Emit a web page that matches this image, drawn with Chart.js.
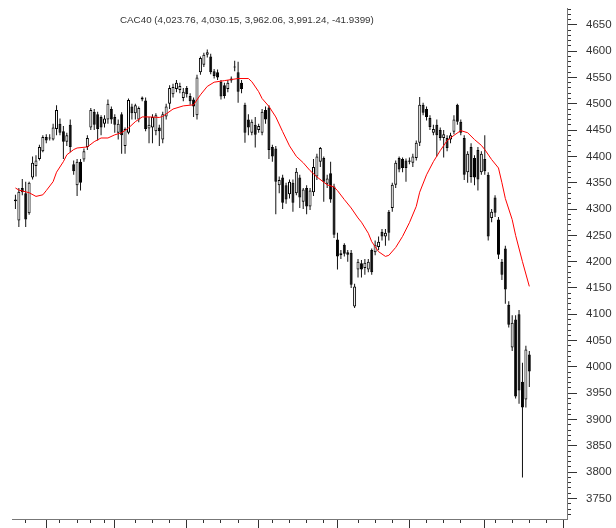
<!DOCTYPE html>
<html>
<head>
<meta charset="utf-8">
<script src="https://cdn.jsdelivr.net/npm/chart.js@4.4.1/dist/chart.umd.min.js"></script>
<style>
  html, body { margin: 0; padding: 0; background: #fff; }
  #wrap { position: relative; width: 616px; height: 528px; }
  #title {
    position: absolute; left: 120px; top: 14px;
    font: 9.8px "Liberation Sans", Arial, sans-serif; color: #333;
    white-space: nowrap; line-height: 12px;
  }
</style>
</head>
<body>
<div id="wrap">
  <canvas id="one_chart" width="616" height="528"></canvas>
  <div id="title">CAC40 (4,023.76, 4,030.15, 3,962.06, 3,991.24, -41.9399)</div>
</div>
<script>
// daily candles, index 0 = first session on the chart
const opens = [4318,4278,4340,4330,4292,4360,4382,4395,4410,4437,4436,4432,4452,4462,4448,4428,4460,4385,4345,4390,
  4394,4418,4455,4485,4480,4475,4462,4470,4490,4475,4445,4480,4420,4445,4495,4482,4470,4512,4506,4453,
  4455,4448,4455,4432,4476,4500,4518,4528,4526,4511,4530,4515,4508,4478,4560,4574,4593,4590,4562,4560,
  4542,4535,4528,4548,4571,4560,4540,4498,4470,4445,4460,4450,4445,4488,4493,4418,4415,4345,4360,4345,
  4328,4350,4330,4360,4314,4340,4305,4332,4362,4390,4397,4348,4368,4343,4242,4212,4232,4218,4217,4115,
  4185,4197,4188,4185,4222,4218,4228,4257,4248,4295,4302,4346,4397,4395,4392,4392,4388,4397,4426,4498,
  4490,4473,4445,4460,4450,4435,4435,4432,4447,4498,4466,4435,4370,4418,4397,4412,4370,4395,4365,4283,
  4322,4280,4200,4225,4118,4037,4090,4100,3972,3938,4023.76];
const highs = [4327,4340,4357,4352,4352,4400,4402,4422,4440,4442,4442,4462,4497,4472,4458,4445,4470,4392,4395,4395,
  4415,4440,4492,4490,4485,4478,4478,4508,4495,4480,4470,4484,4455,4510,4500,4500,4495,4514,4512,4475,
  4480,4482,4460,4485,4500,4535,4538,4545,4540,4530,4534,4520,4512,4555,4590,4597,4603,4595,4566,4565,
  4545,4540,4545,4552,4582,4580,4545,4502,4480,4470,4475,4462,4490,4495,4497,4422,4420,4362,4365,4350,
  4356,4356,4378,4365,4340,4345,4340,4395,4405,4418,4400,4365,4390,4348,4255,4222,4235,4222,4222,4158,
  4205,4203,4205,4205,4225,4240,4248,4262,4262,4298,4350,4392,4400,4398,4396,4398,4405,4430,4513,4502,
  4495,4478,4460,4470,4455,4450,4440,4445,4478,4500,4470,4440,4410,4425,4402,4418,4410,4440,4370,4300,
  4326,4285,4205,4230,4125,4098,4098,4108,4008,4040,4030.15];
const lows = [4300,4266,4326,4266,4289,4356,4362,4392,4408,4425,4430,4430,4440,4440,4395,4420,4408,4365,4325,4335,
  4390,4412,4450,4450,4430,4440,4455,4462,4462,4445,4432,4405,4405,4442,4470,4470,4465,4505,4448,4425,
  4425,4440,4420,4425,4470,4490,4512,4522,4520,4505,4512,4498,4475,4470,4555,4570,4588,4556,4548,4545,
  4508,4510,4522,4540,4562,4502,4520,4426,4440,4440,4417,4445,4440,4462,4395,4390,4290,4330,4300,4310,
  4320,4295,4326,4302,4300,4290,4298,4325,4355,4380,4314,4340,4312,4245,4185,4205,4210,4200,4150,4112,
  4170,4170,4175,4180,4175,4212,4222,4240,4230,4240,4295,4340,4370,4370,4352,4385,4380,4392,4420,4478,
  4468,4450,4440,4400,4430,4398,4410,4425,4442,4460,4440,4355,4350,4350,4345,4335,4365,4365,4240,4275,
  4285,4205,4165,4120,4075,4030,3940,3930,3790,3923,3962.06];
const closes = [4315,4333,4332,4280,4350,4388,4392,4418,4437,4430,4434,4455,4488,4445,4428,4440,4418,4372,4390,4350,
  4410,4435,4488,4460,4452,4455,4472,4500,4470,4460,4462,4440,4452,4507,4482,4497,4492,4508,4452,4460,
  4475,4478,4448,4480,4495,4530,4532,4540,4534,4523,4518,4505,4495,4550,4587,4593,4598,4560,4553,4550,
  4514,4515,4540,4544,4569,4523,4528,4445,4455,4466,4441,4458,4485,4470,4412,4400,4352,4355,4312,4318,
  4352,4312,4371,4322,4337,4305,4335,4380,4400,4416,4352,4358,4318,4251,4210,4216,4215,4213,4156,4153,
  4200,4185,4198,4200,4180,4232,4238,4248,4255,4255,4346,4388,4375,4378,4378,4390,4400,4426,4498,4483,
  4475,4456,4452,4440,4435,4442,4416,4440,4470,4466,4445,4365,4405,4361,4360,4356,4405,4372,4248,4295,
  4293,4213,4175,4147,4080,4084,3944,3955,3923,4033.18,3991.24];

// red moving average at these candle positions
const maIndex = [0,1,4,6,8,9,11,12,14,15,17,18,21,23,25,27,29,31,33,35,37,39,42,43,46,49,52,54,56,58,
  61,63,65,68,69,71,72,74,76,78,80,82,84,86,88,91,93,94,96,98,100,101,103,104,106,108,109,111,113,115,
  117,118,120,122,124,126,128,130,132,134,136,137,139,141,142,143,145,146,148,150];
const maValue = [4340,4336,4331,4324,4327,4335,4352,4370,4390,4403,4413,4416,4418,4428,4435,4435,4441,4445,4454,4466,
  4475,4475,4474,4476,4490,4496,4498,4517,4533,4541,4544,4546,4548,4548,4542,4523,4510,4495,4475,4447,
  4420,4400,4388,4373,4361,4346,4342,4335,4318,4302,4283,4275,4254,4238,4219,4210,4212,4227,4248,4274,
  4305,4332,4365,4390,4411,4430,4440,4449,4445,4432,4421,4413,4394,4378,4350,4320,4280,4250,4200,4153];

// axis ticks
const yLabels = [3750,3800,3850,3900,3950,4000,4050,4100,4150,4200,4250,4300,4350,4400,4450,4500,4550,4600,4650];
const weekTicks = [3,13,18,22,26,35,40,45,55,60,65,75,80,85,90,100,105,110,120,125,130,140,145,150,155];
const monthTicks = [9,29,50,71,94,115,137,160];

const yMin = 3711, yMax = 4682;

const bodies = opens.map((o, i) => ({ x: i, y: [o, closes[i]] }));
const wicks = lows.map((l, i) => ({ x: i, y: [l, highs[i]] }));
const ma = maIndex.map((x, k) => ({ x: x, y: maValue[k] }));

const setTicks = (values) => (scale) => {
  scale.ticks = values.map((v) => ({ value: v }));
};
// no extra room for the end labels
const noPad = (scale) => {
  scale.paddingTop = 0;
  scale.paddingBottom = 0;
  scale.paddingLeft = 0;
  scale.paddingRight = 0;
};

const config = {
  type: "bar",
  data: {
    datasets: [
      {
        type: "line",
        data: ma,
        borderColor: "#ff0000",
        borderWidth: 1,
        pointRadius: 0,
        tension: 0,
        order: 0,
      },
      {
        data: bodies,
        grouped: false,
        barThickness: 3,
        borderWidth: 1,
        borderSkipped: false,
        borderColor: "#000",
        backgroundColor: (c) => (closes[c.dataIndex] >= opens[c.dataIndex] ? "#fff" : "#000"),
        inflateAmount: 0,
        order: 1,
      },
      {
        data: wicks,
        grouped: false,
        barThickness: 1,
        borderWidth: 0,
        backgroundColor: "#111",
        inflateAmount: 0,
        order: 2,
      },
    ],
  },
  options: {
    responsive: false,
    animation: false,
    layout: { padding: { left: 12, right: 0, top: 8, bottom: 5 } },
    plugins: { legend: { display: false }, tooltip: { enabled: false } },
    scales: {
      x: {
        type: "linear",
        position: "bottom",
        weight: 1,
        min: -1,
        max: 161,
        offset: false,
        grid: { drawOnChartArea: false, offset: false, tickLength: 4, color: "#333" },
        border: { color: "#777" },
        ticks: { display: false },
        afterBuildTicks: setTicks(weekTicks),
        afterFit: noPad,
      },
      x2: {
        type: "linear",
        position: "bottom",
        weight: 0,
        min: -1,
        max: 161,
        offset: false,
        grid: { drawOnChartArea: false, offset: false, tickLength: 10, color: "#333" },
        border: { display: false },
        ticks: { display: false },
        afterBuildTicks: setTicks(monthTicks),
        afterFit: (s) => { noPad(s); s.height = 0; },
      },
      y: {
        type: "linear",
        position: "right",
        weight: 1,
        min: yMin,
        max: yMax,
        grid: { drawOnChartArea: false, tickLength: 4, color: "#333" },
        border: { color: "#777" },
        ticks: {
          autoSkip: false,
          padding: 15,
          color: "#333",
          font: { family: "'Liberation Sans', Arial, sans-serif", size: 11.5 },
          callback: (v) => (v % 50 === 0 ? String(v) : ""),
        },
        afterBuildTicks: (s) => {
          const t = [];
          for (let v = 3720; v <= 4680; v += 10) t.push({ value: v });
          s.ticks = t;
        },
        afterFit: (s) => { noPad(s); s.width = 49; },
      },
      y2: {
        type: "linear",
        position: "right",
        weight: 0,
        min: yMin,
        max: yMax,
        grid: { drawOnChartArea: false, tickLength: 10, color: "#333" },
        border: { display: false },
        ticks: { display: false },
        afterBuildTicks: setTicks(yLabels),
        afterFit: (s) => { noPad(s); s.width = 0; },
      },
    },
  },
};

new Chart(document.getElementById("one_chart").getContext("2d"), config);
</script>
</body>
</html>
